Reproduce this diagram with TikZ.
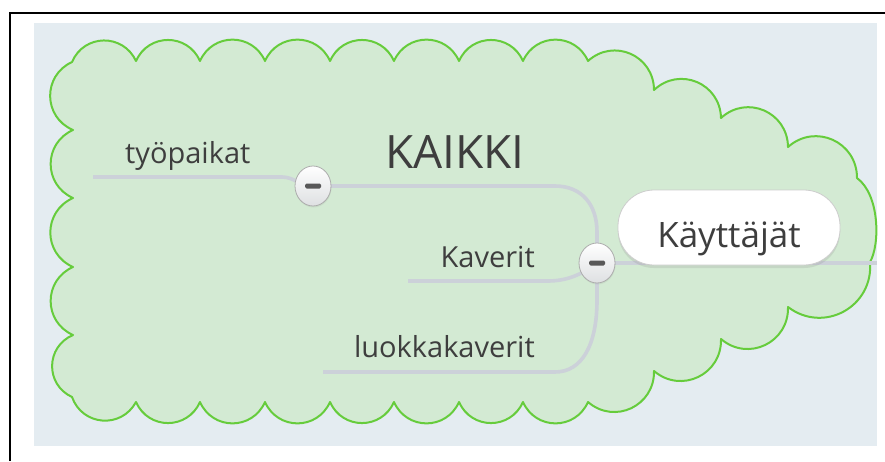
\documentclass[tikz,border=0pt]{standalone}
\usepackage{fontspec}
\setmainfont{Open Sans}
\usetikzlibrary{calc,shapes.geometric,shadows}
\pgfdeclarelayer{bg}
\pgfdeclarelayer{lines}
\pgfsetlayers{bg,lines,main}
\definecolor{bgcol}{RGB}{228,236,241}
\definecolor{cloudfill}{RGB}{211,234,211}
\definecolor{cloudline}{RGB}{102,204,60}
\definecolor{conncol}{RGB}{204,209,217}
\definecolor{txtcol}{RGB}{62,62,62}
\definecolor{tglborder}{RGB}{172,172,172}
\definecolor{minuscol}{RGB}{88,88,88}
\begin{document}
\begin{tikzpicture}[x=1pt,y=-1pt,
  scal/.style={to path={.. controls ($(\tikztostart)!0.48!66:(\tikztotarget)$) and ($(\tikztotarget)!0.48!-66:(\tikztostart)$) .. (\tikztotarget)}},
  conn/.style={draw=conncol,line width=3.6pt},
  lbl/.style={inner sep=0pt,text=txtcol,font=\fontsize{29pt}{34pt}\selectfont},
  tgl/.style={ellipse,minimum width=36pt,minimum height=40pt,inner sep=0pt,
    draw=tglborder,line width=0.8pt,top color=white,bottom color={rgb,255:red,222;green,224;blue,226},
    drop shadow={opacity=0.12,shadow xshift=0.5pt,shadow yshift=-1.5pt},
    path picture={\fill[minuscol,rounded corners=1.5pt]
      ([xshift=-8pt,yshift=-2.5pt]path picture bounding box.center) rectangle
      ([xshift=8pt,yshift=2.5pt]path picture bounding box.center);}},
  pill/.style={draw={rgb,255:red,205;green,205;blue,205},line width=0.8pt,fill=white,
    rounded corners=36pt,minimum width=222pt,minimum height=75pt,inner sep=0pt,
    text height=39pt,text depth=0pt,text=txtcol,
    font=\fontsize{35pt}{40pt}\selectfont,
    drop shadow={opacity=0.18,shadow xshift=0pt,shadow yshift=-3pt}}
]
\useasboundingbox (0,0) rectangle (885,461);

\begin{pgfonlayer}{bg}
  \fill[bgcol] (34,23) rectangle (877,446);
  \draw[line width=2pt] (10,461) -- (10,13) -- (885,13);
  \draw[cloudline,line width=2pt,fill=cloudfill,line join=round]
    (72,62) to[scal] (136,61) to[scal] (200,61) to[scal] (265,61) to[scal] (330,61)
    to[scal] (394,61) to[scal] (459,61) to[scal] (523,61) to[scal] (588,61)
    to[scal] (654,90) to[scal] (721,118) to[scal] (788,147) to[scal] (857,178)
    .. controls (880,195) and (880,245) .. (870,262)
    to[scal] (788,307) to[scal] (721,339) to[scal] (654,371) to[scal] (588,402)
    to[scal] (523,402) to[scal] (459,402) to[scal] (394,402) to[scal] (330,402)
    to[scal] (265,402) to[scal] (200,402) to[scal] (136,402) to[scal] (72,397)
    to[scal] (73,335) to[scal] (73,267) to[scal] (73,198) to[scal] (73,130)
    to[scal] (72,62) -- cycle;
\end{pgfonlayer}

% end points of the branch lines
\coordinate (tyEnd) at (93,177);
\coordinate (kaEnd) at (408,281);
\coordinate (luEnd) at (323,372);
\coordinate (rEnd) at (877,263);

% collapse buttons
\node[tgl] (c1) at (313,186) {};
\node[tgl] (c2) at (597,263) {};

% central topic
\node[pill] (kay) at (729,227.5) {Käyttäjät};

% labels
\node[lbl,anchor=base west] (ty) at (125,163) {työpaikat};
\node[lbl,anchor=base west,font=\fontsize{46pt}{52pt}\selectfont] (kaikki) at (385,168) {KAIKKI};
\node[lbl,anchor=base east] (kav) at (535,267) {Kaverit};
\node[lbl,anchor=base east] (luo) at (535,357) {luokkakaverit};

\begin{pgfonlayer}{lines}
  \draw[conn] (tyEnd) -- (282,177) .. controls (294,177) and (300,186) .. (c1.center);
  \draw[conn] (c1.center) -- (555,186) .. controls (582,186) and (597,205) .. (597,232) -- (c2.center);
  \draw[conn] (kaEnd) -- (548,281) .. controls (570,281) and (585,272) .. (c2.center);
  \draw[conn] (c2.center) -- (597,300) .. controls (597,345) and (582,372) .. (555,372) -- (luEnd);
  \draw[conn] (c2.center) -- (rEnd);
\end{pgfonlayer}
\end{tikzpicture}
\end{document}
